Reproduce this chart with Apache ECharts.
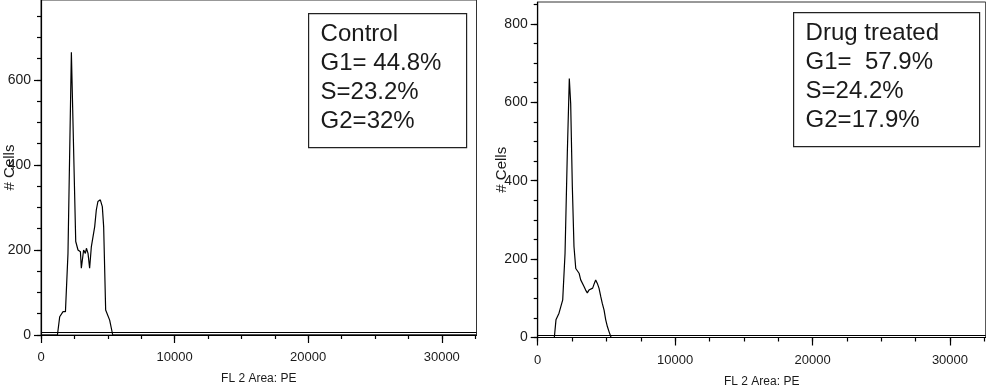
<!DOCTYPE html>
<html>
<head>
<meta charset="utf-8">
<script src="https://cdn.jsdelivr.net/npm/echarts@6/dist/echarts.min.js"></script>
<style>
  html, body { margin: 0; padding: 0; background: #fff; }
  #chart { width: 986px; height: 391px; }
</style>
</head>
<body>
<div id="chart"></div>
<script>
// histogram of DNA content (FL 2 Area: PE), control
const controlX = [0, 1230, 1400, 1530, 1650, 1830, 2020, 2274, 2600, 2770, 2950, 3020, 3190, 3320, 3400, 3520, 3640, 3770, 4020, 4140, 4260, 4440, 4590, 4690, 4840, 5140, 5370, 32600];
const controlY = [0, 0, 43, 42, 55, 55, 192, 665, 220, 200, 196, 157, 200, 192, 204, 192, 157, 208, 255, 294, 314, 318, 302, 255, 59, 35, 0, 0];

// drug treated
const drugX = [0, 1210, 1330, 1460, 1550, 1670, 1820, 1990, 2155, 2300, 2400, 2520, 2640, 2770, 2880, 3010, 3130, 3250, 3370, 3490, 3610, 3730, 3860, 4000, 4120, 4220, 4340, 4460, 4590, 4700, 4830, 4950, 5070, 5190, 5340, 32600];
const drugY = [0, 0, 45, 40, 62, 63, 96, 215, 470, 661, 597, 385, 232, 176, 181, 164, 147, 142, 130, 121, 114, 121, 119, 126, 138, 147, 138, 126, 104, 87, 70, 45, 28, 15, 0, 0];

const gateLevel = 7;

const xMax = 32600;
const xMajorTicks = [0, 10000, 20000, 30000];
const xMinorTicks = [];
for (let v = 0; v < xMax; v += 2500) xMinorTicks.push(v);

const yMaxControl = 788;
const yMaxDrug = 856;
const yMajorControl = [0, 200, 400, 600];
const yMajorDrug = [0, 200, 400, 600, 800];
const yMinorControl = [];
for (let v = 0; v < yMaxControl; v += 50) yMinorControl.push(v);
const yMinorDrug = [];
for (let v = 0; v < yMaxDrug; v += 50) yMinorDrug.push(v);

const controlLines = ['Control', 'G1= 44.8%', 'S=23.2%', 'G2=32%'];
const drugLines = ['Drug treated', 'G1=  57.9%', 'S=24.2%', 'G2=17.9%'];

const font = 'Liberation Sans, Arial, sans-serif';
const ink = '#1a1a1a';

function pairs(xs, ys) {
  return xs.map((x, i) => [x, ys[i]]);
}

function majorX(grid) {
  return {
    type: 'value', gridIndex: grid, min: 0, max: xMax, position: 'bottom',
    name: 'FL 2 Area: PE', nameLocation: 'middle', nameGap: 38, nameMoveOverlap: false,
    nameTextStyle: { fontFamily: font, fontSize: 12, color: ink },
    axisLine: { show: true, onZero: false, lineStyle: { color: '#000', width: 1 } },
    axisTick: { show: true, length: 8, customValues: xMajorTicks, lineStyle: { color: '#000', width: 1.2 } },
    axisLabel: { customValues: xMajorTicks, margin: 16, fontFamily: font, fontSize: 13, color: ink,
      formatter: v => String(v) },
    splitLine: { show: false }
  };
}

function minorX(grid) {
  return {
    type: 'value', gridIndex: grid, min: 0, max: xMax, position: 'bottom',
    axisLine: { show: false, onZero: false },
    axisTick: { show: true, length: 4, customValues: xMinorTicks, lineStyle: { color: '#000', width: 1.2 } },
    axisLabel: { show: false },
    splitLine: { show: false }
  };
}

function majorY(grid, max, ticks, gap) {
  return {
    type: 'value', gridIndex: grid, min: 0, max: max, position: 'left',
    name: '# Cells', nameLocation: 'middle', nameGap: gap, nameMoveOverlap: false,
    nameTextStyle: { fontFamily: font, fontSize: 15, color: ink },
    axisLine: { show: true, onZero: false, lineStyle: { color: '#000', width: 1.2 } },
    axisTick: { show: true, length: 7, customValues: ticks, lineStyle: { color: '#000', width: 1.2 } },
    axisLabel: { customValues: ticks, margin: 10, fontFamily: font, fontSize: 14, color: ink },
    splitLine: { show: false }
  };
}

function minorY(grid, max, ticks) {
  return {
    type: 'value', gridIndex: grid, min: 0, max: max, position: 'left',
    axisLine: { show: false, onZero: false },
    axisTick: { show: true, length: 4, customValues: ticks, lineStyle: { color: '#000', width: 1.2 } },
    axisLabel: { show: false },
    splitLine: { show: false }
  };
}

function histSeries(name, axis, xs, ys) {
  return {
    name: name, type: 'line', xAxisIndex: axis, yAxisIndex: axis,
    data: pairs(xs, ys), showSymbol: false, symbol: 'none',
    lineStyle: { color: '#000', width: 1.2 },
    markLine: {
      silent: true, symbol: 'none', label: { show: false },
      lineStyle: { color: '#000', width: 1.2, type: 'solid' },
      data: [{ yAxis: gateLevel }]
    }
  };
}

function statsBox(lines, x, y, w, h) {
  return {
    type: 'group', left: x, top: y,
    children: [
      { type: 'rect', shape: { x: 0, y: 0, width: w, height: h },
        style: { fill: '#fff', stroke: '#222', lineWidth: 1.2 } },
      { type: 'text', x: 12, y: 6,
        style: { text: lines.join('\n'), font: '24px ' + font, fill: ink, lineHeight: 29 } }
    ]
  };
}

const chart = echarts.init(document.getElementById('chart'));
chart.setOption({
  animation: false,
  backgroundColor: '#fff',
  grid: [
    { left: 41, top: 0, width: 435.5, height: 335, outerBoundsMode: 'none', containLabel: false,
      show: true, borderColor: '#333', borderWidth: 1, backgroundColor: 'transparent' },
    { left: 537.7, top: 2, width: 448, height: 335.5, outerBoundsMode: 'none', containLabel: false,
      show: true, borderColor: '#333', borderWidth: 1, backgroundColor: 'transparent' }
  ],
  xAxis: [majorX(0), majorX(1), minorX(0), minorX(1)],
  yAxis: [
    majorY(0, yMaxControl, yMajorControl, 24),
    majorY(1, yMaxDrug, yMajorDrug, 28),
    minorY(0, yMaxControl, yMinorControl),
    minorY(1, yMaxDrug, yMinorDrug)
  ],
  series: [
    histSeries('Control', 0, controlX, controlY),
    histSeries('Drug treated', 1, drugX, drugY)
  ],
  graphic: [
    statsBox(controlLines, 308, 13, 158, 134),
    statsBox(drugLines, 793, 12, 186, 134)
  ]
});
</script>
</body>
</html>
